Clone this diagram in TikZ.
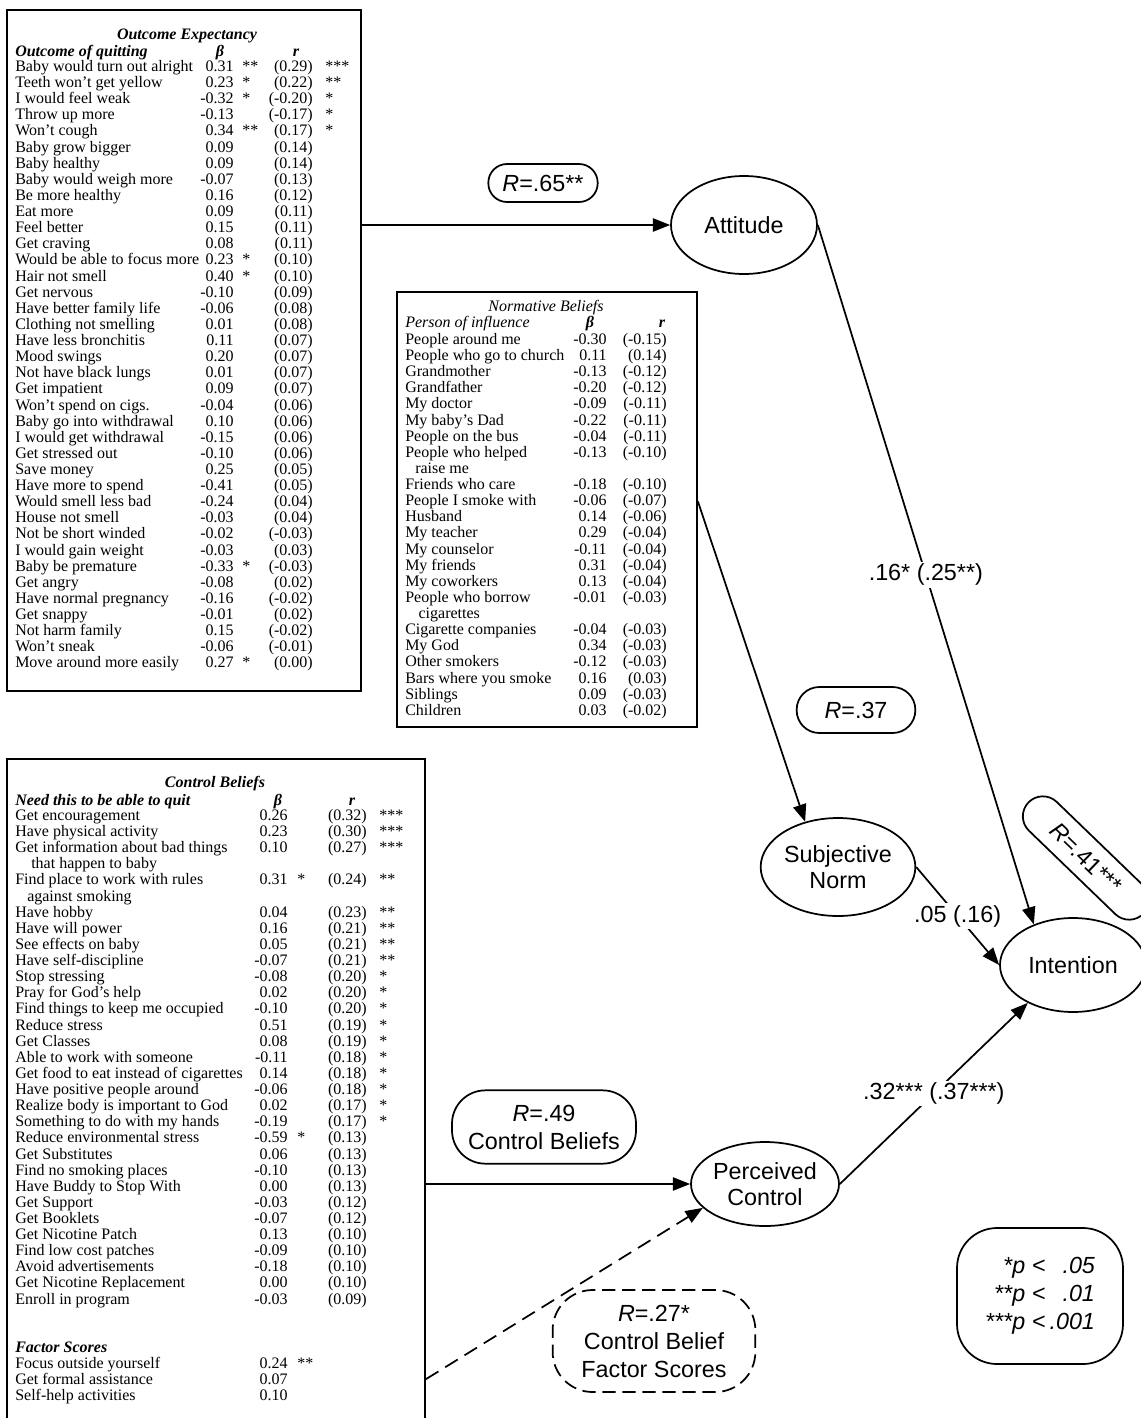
\documentclass[tikz,border=0pt]{standalone}
\usepackage{fontspec}
\setmainfont{Liberation Serif}
\setsansfont{Liberation Sans}
\usetikzlibrary{arrows.meta,positioning,shapes.geometric}

\begin{document}
\begin{tikzpicture}[x=0.75pt,y=-0.75pt,
			tbox/.style={draw,line width=1.4pt,inner sep=0pt},
			cell/.style={inner sep=0pt,font=\fontsize{12}{14}\selectfont},
			icell/.style={inner sep=0pt,font=\fontsize{12}{14}\selectfont\itshape},
			hcell/.style={inner sep=0pt,font=\fontsize{12}{14}\selectfont\bfseries\itshape},
			lat/.style={ellipse,draw,line width=1.3pt,inner sep=0pt,align=center,font=\sffamily\fontsize{17.5}{20}\selectfont},
			rbox/.style={draw,line width=1.3pt,inner sep=0pt,align=center,font=\sffamily\fontsize{17.5}{21}\selectfont},
			arr/.style={-{Triangle[length=13pt,width=10pt]},line width=1.3pt},
			elab/.style={fill=white,inner sep=1.5pt,font=\sffamily\fontsize{17.5}{20}\selectfont}
			]
			\useasboundingbox (0,0) rectangle (1140,1418);
			\node[tbox,minimum width=265.5pt,minimum height=510.75pt] (oe) at (184,350.5) {};
			\node[tbox,minimum width=225pt,minimum height=326.25pt] (nb) at (547,509.5) {};
			\node[tbox,minimum width=313.5pt,minimum height=510.75pt] (cb) at (216,1099.5) {};
			% outcome expectancy
			\node[hcell,anchor=base] (oet) at (187,39.5) {Outcome Expectancy};
			\node[hcell,anchor=base west] (oeh) at (15,56.5) {Outcome of quitting};
			\node[hcell,anchor=base] (oehb) at (220,56.5) {β};
			\node[hcell,anchor=base] (oehr) at (296,56.5) {r};
			\foreach \ta/\tb/\tc/\td/\te [count=\i from 0] in {
				Baby would turn out alright/0.31/**/(0.29)/***,
				Teeth won't get yellow/0.23/*/(0.22)/**,
				I would feel weak/-0.32/*/(-0.20)/*,
				Throw up more/-0.13/{}/(-0.17)/*,
				Won't cough/0.34/**/(0.17)/*,
				Baby grow bigger/0.09/{}/(0.14)/{},
				Baby healthy/0.09/{}/(0.14)/{},
				Baby would weigh more/-0.07/{}/(0.13)/{},
				Be more healthy/0.16/{}/(0.12)/{},
				Eat more/0.09/{}/(0.11)/{},
				Feel better/0.15/{}/(0.11)/{},
				Get craving/0.08/{}/(0.11)/{},
				Would be able to focus more/0.23/*/(0.10)/{},
				Hair not smell/0.40/*/(0.10)/{},
				Get nervous/-0.10/{}/(0.09)/{},
				Have better family life/-0.06/{}/(0.08)/{},
				Clothing not smelling/0.01/{}/(0.08)/{},
				Have less bronchitis/0.11/{}/(0.07)/{},
				Mood swings/0.20/{}/(0.07)/{},
				Not have black lungs/0.01/{}/(0.07)/{},
				Get impatient/0.09/{}/(0.07)/{},
				Won't spend on cigs./-0.04/{}/(0.06)/{},
				Baby go into withdrawal/0.10/{}/(0.06)/{},
				I would get withdrawal/-0.15/{}/(0.06)/{},
				Get stressed out/-0.10/{}/(0.06)/{},
				Save money/0.25/{}/(0.05)/{},
				Have more to spend/-0.41/{}/(0.05)/{},
				Would smell less bad/-0.24/{}/(0.04)/{},
				House not smell/-0.03/{}/(0.04)/{},
				Not be short winded/-0.02/{}/(-0.03)/{},
				I would gain weight/-0.03/{}/(0.03)/{},
				Baby be premature/-0.33/*/(-0.03)/{},
				Get angry/-0.08/{}/(0.02)/{},
				Have normal pregnancy/-0.16/{}/(-0.02)/{},
				Get snappy/-0.01/{}/(0.02)/{},
				Not harm family/0.15/{}/(-0.02)/{},
				Won't sneak/-0.06/{}/(-0.01)/{},
				Move around more easily/0.27/*/(0.00)/{}}{
				\node[cell,anchor=base west] (oe\i) at (15,{71.5+16.12*\i}) {\ta};
				\node[cell,anchor=base east] (oeb\i) at (234,{71.5+16.12*\i}) {\tb};
				\node[cell,anchor=base west] (oebs\i) at (242,{71.5+16.12*\i}) {\tc};
				\node[cell,anchor=base east] (oer\i) at (313,{71.5+16.12*\i}) {\td};
				\node[cell,anchor=base west] (oers\i) at (325,{71.5+16.12*\i}) {\te};
			}
			% normative beliefs
			\node[icell,anchor=base] (nbt) at (546,311.5) {Normative Beliefs};
			\node[icell,anchor=base west] (nbh) at (405,327.5) {Person of influence};
			\node[hcell,anchor=base] (nbhb) at (590,327.5) {β};
			\node[hcell,anchor=base] (nbhr) at (662,327.5) {r};
			\foreach \ta/\tb/\td [count=\i from 0] in {
				People around me/-0.30/(-0.15),
				People who go to church/0.11/(0.14),
				Grandmother/-0.13/(-0.12),
				Grandfather/-0.20/(-0.12),
				My doctor/-0.09/(-0.11),
				My baby’s Dad/-0.22/(-0.11),
				People on the bus/-0.04/(-0.11),
				People who helped/-0.13/(-0.10),
				\hspace*{7.5pt}raise me/{}/{},
				Friends who care/-0.18/(-0.10),
				People I smoke with/-0.06/(-0.07),
				Husband/0.14/(-0.06),
				My teacher/0.29/(-0.04),
				My counselor/-0.11/(-0.04),
				My friends/0.31/(-0.04),
				My coworkers/0.13/(-0.04),
				People who borrow/-0.01/(-0.03),
				\hspace*{10pt}cigarettes/{}/{},
				Cigarette companies/-0.04/(-0.03),
				My God/0.34/(-0.03),
				Other smokers/-0.12/(-0.03),
				Bars where you smoke/0.16/(0.03),
				Siblings/0.09/(-0.03),
				Children/0.03/(-0.02)}{
				\node[cell,anchor=base west] (nb\i) at (405,{344.5+16.12*\i}) {\ta};
				\node[cell,anchor=base east] (nbb\i) at (607,{344.5+16.12*\i}) {\tb};
				\node[cell,anchor=base east] (nbr\i) at (667,{344.5+16.12*\i}) {\td};
			}
			% control beliefs
			\node[hcell,anchor=base] (cbt) at (215,787.5) {Control Beliefs};
			\node[hcell,anchor=base west] (cbh) at (15,805.5) {Need this to be able to quit};
			\node[hcell,anchor=base] (cbhb) at (278,805.5) {β};
			\node[hcell,anchor=base] (cbhr) at (352,805.5) {r};
			\foreach \ta/\tb/\tc/\td/\te [count=\i from 0] in {
				Get encouragement/0.26/{}/(0.32)/***,
				Have physical activity/0.23/{}/(0.30)/***,
				Get information about bad things/0.10/{}/(0.27)/***,
				\hspace*{12pt}that happen to baby/{}/{}/{}/{},
				Find place to work with rules/0.31/*/(0.24)/**,
				\hspace*{9pt}against smoking/{}/{}/{}/{},
				Have hobby/0.04/{}/(0.23)/**,
				Have will power/0.16/{}/(0.21)/**,
				See effects on baby/0.05/{}/(0.21)/**,
				Have self-discipline/-0.07/{}/(0.21)/**,
				Stop stressing/-0.08/{}/(0.20)/*,
				Pray for God's help/0.02/{}/(0.20)/*,
				Find things to keep me occupied/-0.10/{}/(0.20)/*,
				Reduce stress/0.51/{}/(0.19)/*,
				Get Classes/0.08/{}/(0.19)/*,
				Able to work with someone/-0.11/{}/(0.18)/*,
				Get food to eat instead of cigarettes/0.14/{}/(0.18)/*,
				Have positive people around/-0.06/{}/(0.18)/*,
				Realize body is important to God/0.02/{}/(0.17)/*,
				Something to do with my hands/-0.19/{}/(0.17)/*,
				Reduce environmental stress/-0.59/*/(0.13)/{},
				Get Substitutes/0.06/{}/(0.13)/{},
				Find no smoking places/-0.10/{}/(0.13)/{},
				Have Buddy to Stop With/0.00/{}/(0.13)/{},
				Get Support/-0.03/{}/(0.12)/{},
				Get Booklets/-0.07/{}/(0.12)/{},
				Get Nicotine Patch/0.13/{}/(0.10)/{},
				Find low cost patches/-0.09/{}/(0.10)/{},
				Avoid advertisements/-0.18/{}/(0.10)/{},
				Get Nicotine Replacement/0.00/{}/(0.10)/{},
				Enroll in program/-0.03/{}/(0.09)/{}}{
				\node[cell,anchor=base west] (cb\i) at (15,{820.5+16.12*\i}) {\ta};
				\node[cell,anchor=base east] (cbb\i) at (288,{820.5+16.12*\i}) {\tb};
				\node[cell,anchor=base west] (cbbs\i) at (297,{820.5+16.12*\i}) {\tc};
				\node[cell,anchor=base east] (cbr\i) at (367,{820.5+16.12*\i}) {\td};
				\node[cell,anchor=base west] (cbrs\i) at (379,{820.5+16.12*\i}) {\te};
			}
			\node[hcell,anchor=base west] (fsh) at (15,{820.5+16.12*33}) {Factor Scores};
			\foreach \ta/\tb/\tc [count=\i] in {
				Focus outside yourself/0.24/**,
				Get formal assistance/0.07/{},
				Self-help activities/0.10/{}}{
				\node[cell,anchor=base west] (fs\i) at (15,{820.5+16.12*(33+\i)}) {\ta};
				\node[cell,anchor=base east] (fsb\i) at (288,{820.5+16.12*(33+\i)}) {\tb};
				\node[cell,anchor=base west] (fsbs\i) at (297,{820.5+16.12*(33+\i)}) {\tc};
			}
			% model
			\node[lat,minimum width=109.5pt,minimum height=73.5pt] (att) at (744,225) {Attitude};
			\node[lat,minimum width=116pt,minimum height=73.5pt] (sn) at (838,867) {Subjective\\Norm};
			\node[lat,minimum width=109.5pt,minimum height=70.5pt] (int) at (1073,965) {Intention};
			\node[lat,minimum width=111pt,minimum height=63pt] (pc) at (765,1184) {Perceived\\Control};
			\node[rbox,rounded corners=14pt,minimum width=82pt,minimum height=28.5pt] (r65) at (543,183) {{\itshape R}=.65**};
			\node[rbox,rounded corners=17pt,minimum width=89pt,minimum height=34.5pt] (r37) at (856,710) {{\itshape R}=.37};
			\node[rbox,rotate=-44,rounded corners=15pt,minimum width=120pt,minimum height=30pt] (r41) at (1086,858) {{\itshape R}=.41***};
			\node[rbox,rounded corners=25pt,minimum width=138pt,minimum height=55pt] (r49) at (544,1127) {{\itshape R}=.49\\Control Beliefs};
			\node[rbox,dash pattern=on 10pt off 5pt,rounded corners=30pt,minimum width=152pt,minimum height=76.5pt] (r27) at (654,1341) {{\itshape R}=.27*\\Control Belief\\Factor Scores};
			\node[rbox,rounded corners=30pt,minimum width=124.5pt,minimum height=102pt] (sig) at (1040,1296) {\itshape\begin{tabular}{@{}r@{\hspace{5pt}}c@{\hspace{3pt}}r@{}}{*}p & < & .05\\ {**}p & < & .01\\ {***}p & < & .001\end{tabular}};
			\draw[arr] (oe.east |- att) -- (att.west);
			\draw[arr] ([yshift=6pt]nb.east) -- (sn.126);
			\draw[arr] (cb.east |- pc) -- (pc.west);
			\draw[arr,dash pattern=on 11pt off 6pt] (cb.east |- fs2) -- (pc.201);
			\draw[arr] (att.east) -- node[elab] {.16* (.25**)} (int.134);
			\draw[arr] (sn.east) -- node[elab] {.05 (.16)} (int.west);
			\draw[arr] (pc.east) -- node[elab] {.32*** (.37***)} (int.220);
		\end{tikzpicture}
\end{document}
